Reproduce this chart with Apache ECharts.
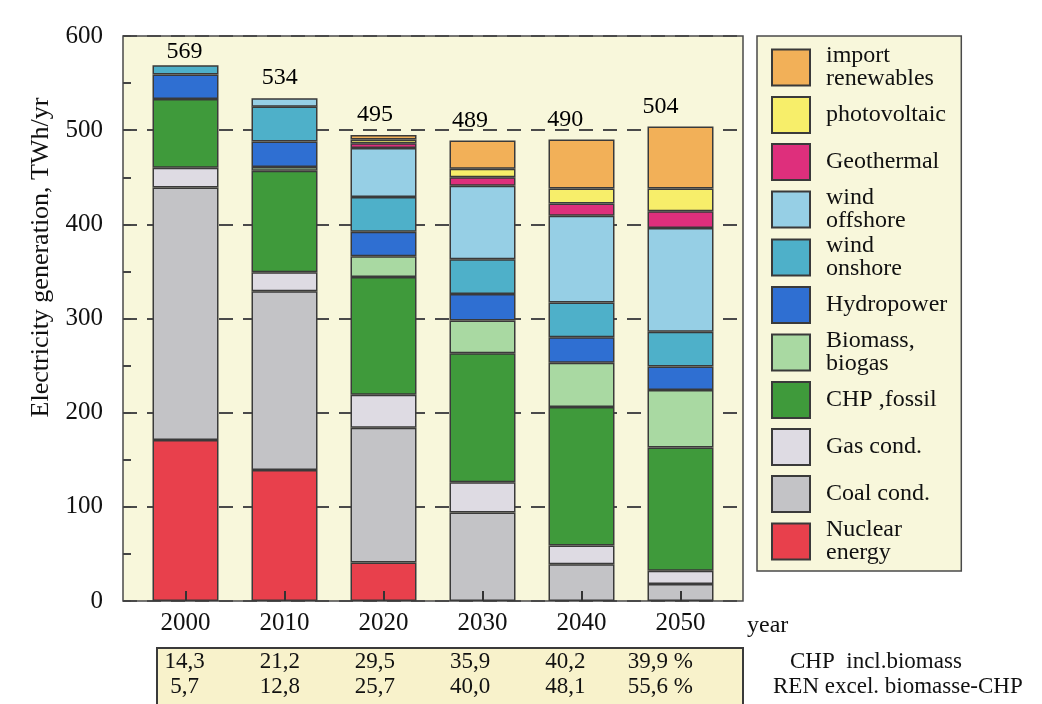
<!DOCTYPE html>
<html>
<head>
<meta charset="utf-8">
<script src="https://cdn.jsdelivr.net/npm/echarts@6/dist/echarts.min.js"></script>
<style>
html,body{margin:0;padding:0;background:#fff;}
#c{width:1042px;height:704px;}
</style>
</head>
<body>
<div id="c"></div>
<script>
// ---- data (TWh/yr) ----
const years = ['2000', '2010', '2020', '2030', '2040', '2050'];
const nuclear    = [171, 139, 41, 0, 0, 0];
const coal       = [268, 190, 143, 94, 39, 18];
const gasCond    = [21, 20, 35, 32, 20, 14];
const chpFossil  = [73, 108, 125, 137, 147, 131];
const biomass    = [0, 4, 22, 35, 47, 61];
const hydro      = [26, 27, 26, 28, 27, 25];
const windOn     = [10, 37, 37, 37, 37, 37];
const windOff    = [0, 9, 52, 78, 92, 110];
const geothermal = [0, 0, 5, 9, 13, 18];
const pv         = [0, 0, 4, 9, 16, 24];
const importRen  = [0, 0, 5, 30, 52, 66];
const totals     = [569, 534, 495, 489, 490, 504];
const chpShare   = [14.3, 21.2, 29.5, 35.9, 40.2, 39.9];
const renShare   = [5.7, 12.8, 25.7, 40.0, 48.1, 55.6];
const yTicks     = [0, 100, 200, 300, 400, 500, 600];

const seriesDefs = [
  ['Nuclear\nenergy', nuclear, '#E8404C'],
  ['Coal cond.', coal, '#C3C3C6'],
  ['Gas cond.', gasCond, '#DEDBE3'],
  ['CHP ,fossil', chpFossil, '#3F9A3B'],
  ['Biomass,\nbiogas', biomass, '#A9D9A2'],
  ['Hydropower', hydro, '#2F6FD2'],
  ['wind\nonshore', windOn, '#4EB0C9'],
  ['wind\noffshore', windOff, '#96CFE5'],
  ['Geothermal', geothermal, '#DE2F7C'],
  ['photovoltaic', pv, '#F7EE6A'],
  ['import\nrenewables', importRen, '#F2B058']
];

const FONT = 'Liberation Serif';
const fmt = v => v.toFixed(1).replace('.', ',');

const barSeries = seriesDefs.map(([name, vals, color]) => ({
  name: name,
  type: 'bar',
  stack: 'total',
  xAxisIndex: 1,
  yAxisIndex: 1,
  barWidth: 66,
  itemStyle: { color: color, borderColor: '#3a3a3a', borderWidth: 1.5 },
  data: vals.map(v => (v === 0 ? null : v))
}));

const totalSeries = {
  type: 'scatter',
  xAxisIndex: 2,
  yAxisIndex: 2,
  symbolSize: 0.01,
  itemStyle: { color: '#000', opacity: 1 },
  label: {
    show: true, position: 'top', fontFamily: FONT, fontSize: 24, color: '#000',
    formatter: p => String(p.value)
  },
  data: totals.map(v => ({ value: v, label: { distance: v > 550 ? 1 : 8 } }))
};

const legendFormatter = name => {
  if (name.indexOf('\n') >= 0) {
    return name.split('\n').map(s => '{d|' + s + '}').join('\n');
  }
  return '{s|' + name + '}';
};

const chart = echarts.init(document.getElementById('c'), null, { renderer: 'canvas' });
chart.setOption({
  animation: false,
  backgroundColor: '#ffffff',
  textStyle: { fontFamily: FONT },
  grid: [
    { left: 123, top: 36, width: 620, height: 565, show: true,
      backgroundColor: '#F8F7DB', borderColor: '#4a4a4a', borderWidth: 1.5 },
    { left: 136, top: 36, width: 594, height: 565 },
    { left: 137, top: 36, width: 571, height: 565 }
  ],
  xAxis: [
    { gridIndex: 0, type: 'value', show: false, min: 0, max: 1 },
    { gridIndex: 1, type: 'category', data: years, z: 5,
      axisLine: { show: false },
      axisTick: { show: true, inside: true, alignWithLabel: true, length: 10,
                  lineStyle: { color: '#333', width: 2 } },
      axisLabel: { fontFamily: FONT, fontSize: 25, color: '#111', margin: 10 } },
    { gridIndex: 2, type: 'category', data: years, show: false },
    { gridIndex: 2, type: 'category', data: chpShare, position: 'bottom', offset: 49,
      axisLine: { show: false }, axisTick: { show: false }, splitLine: { show: false },
      axisLabel: { fontFamily: FONT, fontSize: 23, color: '#111', margin: 0,
        formatter: (v, i) => fmt(Number(v)) + (i === chpShare.length - 1 ? ' %' : '') } },
    { gridIndex: 2, type: 'category', data: renShare, position: 'bottom', offset: 74,
      axisLine: { show: false }, axisTick: { show: false }, splitLine: { show: false },
      axisLabel: { fontFamily: FONT, fontSize: 23, color: '#111', margin: 0,
        formatter: (v, i) => fmt(Number(v)) + (i === renShare.length - 1 ? ' %' : '') } }
  ],
  yAxis: [
    { gridIndex: 0, type: 'value', min: yTicks[0], max: yTicks[yTicks.length - 1], interval: 100,
      name: 'Electricity generation, TWh/yr', nameLocation: 'middle', nameGap: 68,
      nameTextStyle: { fontFamily: FONT, fontSize: 26, color: '#111', padding: [0, 0, 0, 122] },
      axisLine: { show: false },
      axisTick: { show: true, inside: true, length: 8, lineStyle: { color: '#444', width: 2 } },
      minorTick: { show: true, splitNumber: 2, length: 8, lineStyle: { color: '#444', width: 2 } },
      splitLine: { show: true, lineStyle: { color: '#4a4a4a', width: 2, type: [14, 10] } },
      axisLabel: { fontFamily: FONT, fontSize: 25, color: '#111', margin: 20 } },
    { gridIndex: 1, type: 'value', min: 0, max: 600, show: false },
    { gridIndex: 2, type: 'value', min: 0, max: 600, show: false }
  ],
  legend: {
    orient: 'vertical',
    left: 757, top: 36,
    padding: [8, 14, 6, 14],
    backgroundColor: '#F8F7DB',
    borderColor: '#4a4a4a', borderWidth: 1.5,
    itemWidth: 38, itemHeight: 36, itemGap: 1,
    icon: 'rect',
    selectedMode: false,
    itemStyle: { borderColor: '#3a3a3a', borderWidth: 2 },
    data: seriesDefs.map(d => d[0]).reverse(),
    formatter: legendFormatter,
    textStyle: {
      fontFamily: FONT, fontSize: 24, color: '#111',
      backgroundColor: 'rgba(0,0,0,0)', height: 46,
      rich: {
        s: { fontFamily: FONT, fontSize: 24, color: '#111', lineHeight: 46, padding: [0, 0, 0, 11] },
        d: { fontFamily: FONT, fontSize: 24, color: '#111', lineHeight: 23, padding: [0, 0, 0, 11] }
      }
    }
  },
  graphic: [
    { type: 'rect', z: -5, shape: { x: 157, y: 648, width: 586, height: 70 },
      style: { fill: '#F8F2CB', stroke: '#3a3a3a', lineWidth: 2 } },
    { type: 'text', x: 747, y: 626, style: { text: 'year', font: '24px "Liberation Serif"', fill: '#111', textVerticalAlign: 'middle' } },
    { type: 'text', x: 790, y: 662, style: { text: 'CHP  incl.biomass', font: '23px "Liberation Serif"', fill: '#111', textVerticalAlign: 'middle' } },
    { type: 'text', x: 773, y: 687, style: { text: 'REN excel. biomasse-CHP', font: '23px "Liberation Serif"', fill: '#111', textVerticalAlign: 'middle' } }
  ],
  series: barSeries.concat([totalSeries])
});
</script>
</body>
</html>
